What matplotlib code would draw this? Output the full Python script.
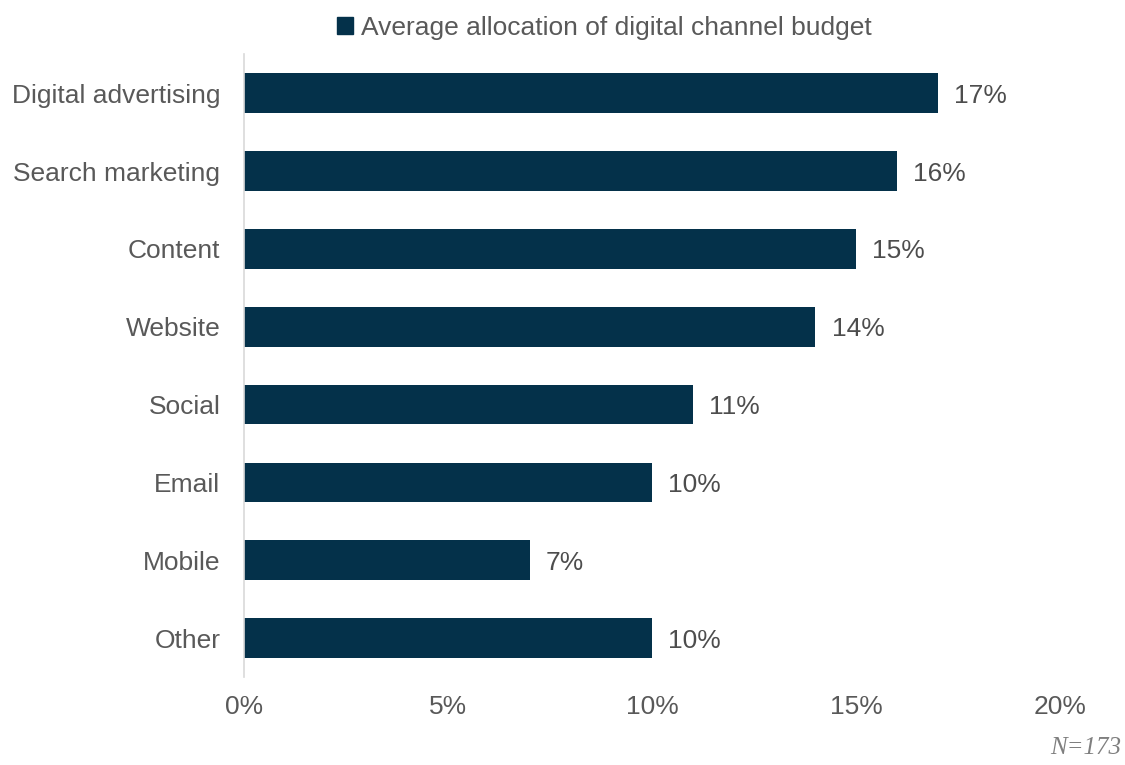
import matplotlib.pyplot as plt
from matplotlib.patches import Patch

# Budget share by digital channel
channels = ['Digital advertising', 'Search marketing', 'Content', 'Website',
            'Social', 'Email', 'Mobile', 'Other']
shares = [17, 16, 15, 14, 11, 10, 7, 10]
xticks = [0, 5, 10, 15, 20]

bar_col = '#04314A'
txt_col = '#595959'

plt.rcParams['font.family'] = ['Liberation Sans', 'DejaVu Sans']

fig = plt.figure(figsize=(11.25, 7.65), dpi=100)
ax = fig.add_axes([0.2169, 0.115, 0.7253, 0.814])

pos = list(range(len(channels)))
ax.barh(pos, shares, height=0.51, color=bar_col)
ax.set_ylim(len(channels) - 0.5, -0.5)
ax.set_xlim(0, 20)

for p, v in zip(pos, shares):
    ax.text(v + 0.4, p, f'{v}%', va='center_baseline', ha='left',
            fontsize=19, color='#4D4D4D')

ax.set_yticks(pos)
ax.set_yticklabels(channels, fontsize=19, color=txt_col)
ax.set_xticks(xticks)
ax.set_xticklabels([f'{t}%' for t in xticks], fontsize=19, color=txt_col)
ax.tick_params(axis='both', length=0)
ax.tick_params(axis='y', pad=17)
ax.tick_params(axis='x', pad=13)

for s in ['top', 'right', 'bottom']:
    ax.spines[s].set_visible(False)
ax.spines['left'].set_color('#D9D9D9')
ax.spines['left'].set_linewidth(1.2)

leg = fig.legend(handles=[Patch(color=bar_col)],
                 labels=['Average allocation of digital channel budget'],
                 loc='center', bbox_to_anchor=(0.537, 0.964), frameon=False,
                 fontsize=19, handlelength=0.6, handleheight=0.6, handletextpad=0.3)
for t in leg.get_texts():
    t.set_color(txt_col)

fig.text(0.997, 0.008, 'N=173', ha='right', va='bottom', fontsize=18,
         color='#7F7F7F', family='Liberation Serif', style='italic')

fig.savefig('out.png', dpi=100)
